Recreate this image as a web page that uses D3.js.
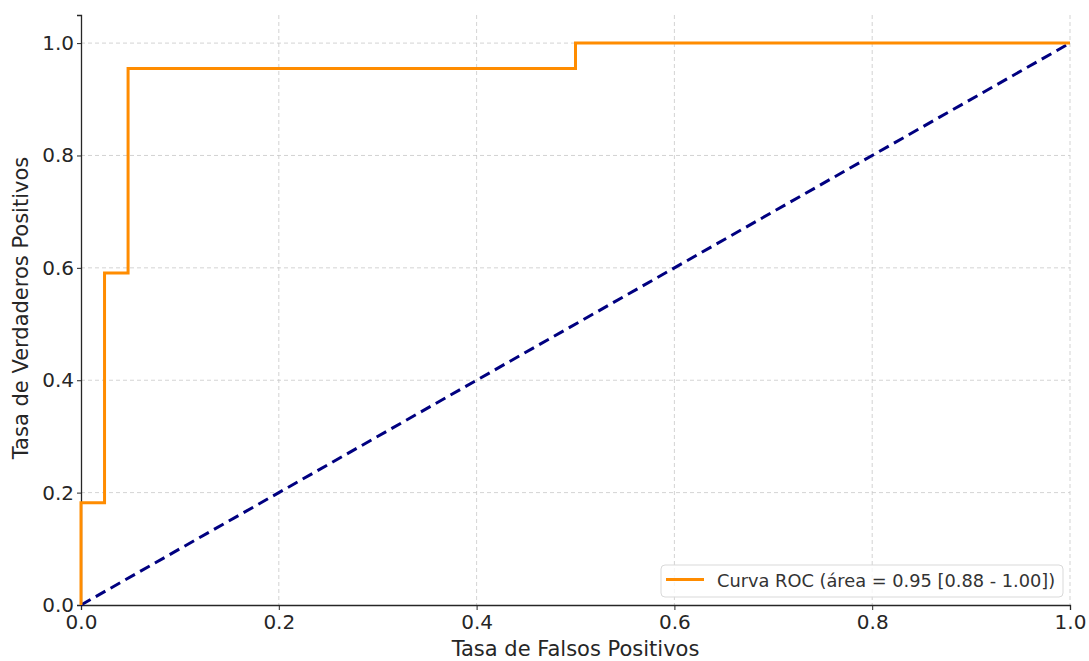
<!DOCTYPE html>
<html lang="es">
<head>
<meta charset="UTF-8">
<script src="https://d3js.org/d3.v7.min.js"></script>
<style>
  body { margin: 0; background: #fff; }
  svg text { font-family: "DejaVu Sans", sans-serif; fill: #262626; }
  .grid line { stroke: #c8c8c8; stroke-width: 0.8; stroke-dasharray: 4 3; }
</style>
</head>
<body>
<svg width="1089" height="661"></svg>
<script>
// ROC curve points (false positive rate, true positive rate)
const fpr = [0, 0, 0.0238, 0.0238, 0.0476, 0.0476, 0.5, 0.5, 1];
const tpr = [0, 0.182, 0.182, 0.591, 0.591, 0.955, 0.955, 1, 1];
const diagX = [0, 1];
const diagY = [0, 1];
const ticks = [0, 0.2, 0.4, 0.6, 0.8, 1.0];
const legendLabel = 'Curva ROC (área = 0.95 [0.88 - 1.00])';

const svg = d3.select('svg');
const margin = { top: 15, right: 19, bottom: 56, left: 81 };
const width = +svg.attr('width') - margin.left - margin.right;
const height = +svg.attr('height') - margin.top - margin.bottom;

const x = d3.scaleLinear().domain([0, 1]).range([0, width]);
const y = d3.scaleLinear().domain([0, 1.05]).range([height, 0]);

const g = svg.append('g').attr('transform', `translate(${margin.left},${margin.top})`);

// grid
g.append('g').attr('class', 'grid')
  .selectAll('line.v').data(ticks.slice(1)).enter().append('line')
  .attr('x1', d => x(d)).attr('x2', d => x(d)).attr('y1', 0).attr('y2', height);
g.append('g').attr('class', 'grid')
  .selectAll('line.h').data(ticks.slice(1)).enter().append('line')
  .attr('x1', 0).attr('x2', width).attr('y1', d => y(d)).attr('y2', d => y(d));

// axes
const fmt = d3.format('.1f');
const xAxis = g.append('g').attr('transform', `translate(0,${height})`)
  .call(d3.axisBottom(x).tickValues(ticks).tickFormat(fmt).tickSize(5).tickPadding(5));
const yAxis = g.append('g')
  .call(d3.axisLeft(y).tickValues(ticks).tickFormat(fmt).tickSize(4).tickPadding(3));
[xAxis, yAxis].forEach(a => {
  a.select('.domain').attr('stroke', '#262626').attr('stroke-width', 1.3);
  a.selectAll('.tick line').attr('stroke', '#262626').attr('stroke-width', 1);
  a.selectAll('.tick text').style('font-size', '20px');
});

// diagonal
g.append('path')
  .datum(diagX.map((d, i) => [d, diagY[i]]))
  .attr('fill', 'none').attr('stroke', '#000080').attr('stroke-width', 3)
  .attr('stroke-dasharray', '11 6')
  .attr('d', d3.line().x(d => x(d[0])).y(d => y(d[1])));

// ROC curve
g.append('path')
  .datum(fpr.map((d, i) => [d, tpr[i]]))
  .attr('fill', 'none').attr('stroke', '#ff8c00').attr('stroke-width', 3)
  .attr('d', d3.line().x(d => x(d[0])).y(d => y(d[1])));

// axis labels
svg.append('text')
  .attr('x', margin.left + width / 2).attr('y', 656)
  .attr('text-anchor', 'middle').style('font-size', '21px')
  .text('Tasa de Falsos Positivos');
svg.append('text')
  .attr('transform', `translate(28,${margin.top + height / 2 - 2}) rotate(-90)`)
  .attr('text-anchor', 'middle').style('font-size', '21px')
  .text('Tasa de Verdaderos Positivos');

// legend
const lg = g.append('g').attr('transform', `translate(${width - 409},${height - 40})`);
lg.append('rect')
  .attr('width', 402).attr('height', 32).attr('rx', 4)
  .attr('fill', '#fff').attr('fill-opacity', 0.8)
  .attr('stroke', '#d9d9d9');
lg.append('line')
  .attr('x1', 5).attr('x2', 43).attr('y1', 14.5).attr('y2', 14.5)
  .attr('stroke', '#ff8c00').attr('stroke-width', 3);
lg.append('text')
  .attr('x', 56).attr('y', 22).style('font-size', '17.8px').style('fill', '#333')
  .text(legendLabel);
</script>
</body>
</html>
